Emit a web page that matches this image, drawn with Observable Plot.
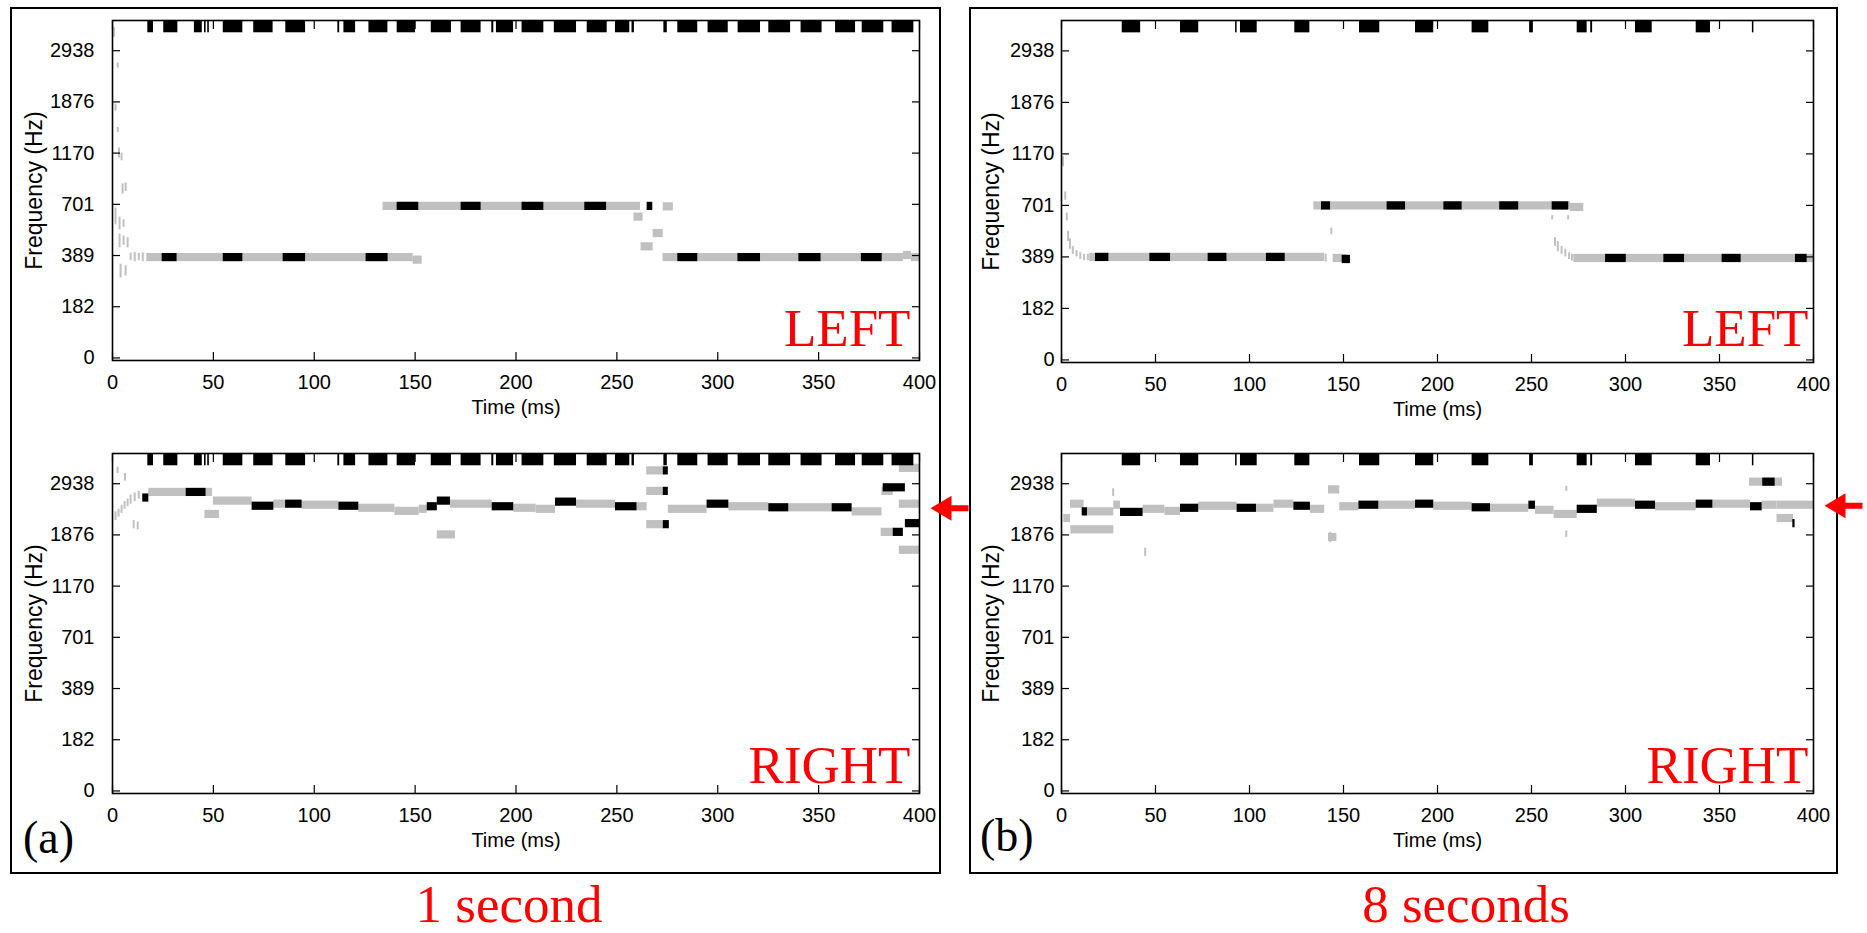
<!DOCTYPE html>
<html>
<head>
<meta charset="utf-8">
<script src="https://cdn.jsdelivr.net/npm/d3@7"></script>
<script src="https://cdn.jsdelivr.net/npm/@observablehq/plot@0.6"></script>
<style>
  html, body { margin: 0; padding: 0; background: #fff; }
  #root { position: relative; width: 1867px; height: 933px; }
  .box { position: absolute; border: 2px solid #000; box-sizing: border-box; }
  .plot { position: absolute; }
  .serif { position: absolute; font-family: "Liberation Serif", "Times New Roman", serif; white-space: nowrap; line-height: normal; }
</style>
</head>
<body>
<div id="root">
  <div class="box" style="left:10px;top:7px;width:931px;height:867px;"></div>
  <div class="box" style="left:969px;top:7px;width:869px;height:867px;"></div>
  <div id="a-left" class="plot" style="left:0px;top:0px;"></div>
  <div id="a-right" class="plot" style="left:0px;top:433px;"></div>
  <div id="b-left" class="plot" style="left:949px;top:0px;"></div>
  <div id="b-right" class="plot" style="left:949px;top:433px;"></div>
  <div class="serif" style="left:23px;top:811px;font-size:46px;color:#000;">(a)</div>
  <div class="serif" style="left:980px;top:809px;font-size:46px;color:#000;">(b)</div>
  <div class="serif" style="left:309px;top:875px;width:400px;text-align:center;font-size:53px;line-height:58px;color:red;">1 second</div>
  <div class="serif" style="left:1266px;top:875px;width:400px;text-align:center;font-size:53px;line-height:58px;color:red;">8 seconds</div>
</div>
<script>
// ---------------- tick labels ----------------
const timeTicks = [0, 50, 100, 150, 200, 250, 300, 350, 400];
const freqTickLabels = ["0", "182", "389", "701", "1170", "1876", "2938"];
const xTitle = "Time (ms)";
const yTitle = "Frequency (Hz)";

// ---------------- panel (a): 1 second ----------------
// top-row markers [t0, t1] (ms), shared by both ears
const glimpsesA = [[17.5,20.3],[25.4,32.4],[40.6,44.5],[45.6,46.4],[47.2,48.0],[54.9,64.6],[70.0,79.6],[85.9,95.7],[111.7,112.6],[114.7,120.5],[127.1,136.5],[141.1,150.2],[158.0,168.0],[172.8,182.7],[188.0,189.0],[190.3,198.8],[203.0,213.8],[219.0,230.0],[235.3,245.2],[249.3,256.4],[257.5,258.7],[273.3,275.0],[280.2,290.1],[295.2,305.2],[310.1,321.2],[325.3,336.1],[341.3,351.7],[358.4,368.3],[371.6,382.3],[386.4,397.2]];
// LEFT ear: [t0, t1, band]
const leftGrayA = [[17.0,24.6,1.96],[24.6,149.0,1.96],[149.0,153.5,1.91],[134.1,261.7,2.96],[258.5,263.0,2.75],[268.0,273.0,2.43],[262.0,268.0,2.17],[273.0,278.0,2.95],[272.9,392.0,1.96],[392.0,396.0,2.00],[396.0,400.0,1.96]];
const leftBlackA = [[24.6,32.0,1.96],[54.9,64.6,1.96],[84.6,95.7,1.96],[125.7,136.6,1.96],[141.1,151.8,2.96],[172.8,182.7,2.96],[203.0,213.8,2.96],[234.1,244.9,2.96],[265.0,267.8,2.96],[280.2,290.1,1.96],[310.0,321.2,1.96],[340.2,351.2,1.96],[371.2,381.5,1.96]];
// LEFT ear onset flecks: [t, band0, band1]
const leftFlecksA = [[0.7,6.26,6.45],[2.6,5.66,5.76],[1.5,4.82,4.96],[2.6,4.40,4.50],[3.2,3.90,4.10],[4.5,3.85,4.00],[5.0,3.20,3.40],[6.5,3.25,3.42],[1.5,2.60,2.93],[3.5,2.50,2.75],[5.5,2.55,2.70],[3.5,2.15,2.42],[5.5,2.20,2.38],[7.5,2.15,2.35],[4.0,1.56,1.83],[6.5,1.60,1.80],[9.0,1.90,2.05],[11.0,1.88,2.06],[13.0,1.90,2.04],[15.0,1.88,2.05]];
// RIGHT ear
const rightGrayA = [[18.0,36.5,5.83],[46.4,49.6,5.83],[45.8,53.0,5.40],[50.0,69.2,5.66],[80.0,85.8,5.60],[94.0,112.2,5.58],[122.1,140.0,5.52],[140.0,152.0,5.46],[152.0,156.0,5.50],[161.0,170.0,5.00],[167.5,188.2,5.60],[198.9,210.0,5.52],[210.0,219.6,5.50],[230.0,249.3,5.60],[260.0,265.0,5.55],[264.8,273.0,6.25],[264.8,273.0,5.85],[264.8,273.0,5.20],[275.5,294.7,5.50],[305.5,325.3,5.55],[335.2,356.7,5.53],[366.6,381.4,5.45],[381.4,387.0,5.85],[390.0,400.0,6.30],[390.0,400.0,5.60],[381.0,388.0,5.05],[390.0,400.0,4.70]];
const rightBlackA = [[15.0,18.0,5.72],[36.5,46.4,5.83],[69.2,80.0,5.56],[85.8,94.0,5.60],[112.2,122.1,5.56],[156.0,161.0,5.55],[161.0,167.5,5.66],[188.2,198.9,5.55],[219.6,230.0,5.64],[249.3,260.0,5.55],[273.0,275.5,6.25],[273.0,275.5,5.85],[273.0,276.0,5.20],[294.7,305.5,5.60],[325.3,335.2,5.53],[356.7,366.6,5.53],[382.0,393.0,5.92],[393.0,400.0,5.22],[387.0,392.0,5.05]];
const rightFlecksA = [[2.5,6.20,6.32],[6.2,6.05,6.20],[1.5,5.28,5.45],[3.0,5.35,5.50],[4.5,5.42,5.58],[6.0,5.50,5.65],[7.5,5.55,5.70],[9.0,5.60,5.78],[10.5,5.12,5.28],[12.5,5.10,5.25],[11.0,5.65,5.82],[13.0,5.70,5.85]];
const targetBandA = 5.52;   // arrow (target source) level

// ---------------- panel (b): 8 seconds ----------------
const glimpsesB = [[32.3,42.1],[63.3,73.0],[92.6,93.4],[95.2,104.1],[124.1,132.1],[158.5,169.3],[188.3,198.0],[218.4,227.3],[249.0,251.0],[274.3,279.6],[281.5,282.5],[305.3,314.2],[337.6,345.2],[367.5,368.3]];
const leftGrayB = [[15.0,140.0,1.99],[144.5,152.0,1.97],[134.2,270.7,2.99],[270.7,277.8,2.96],[272.5,400.0,1.97]];
const leftBlackB = [[18.1,25.2,1.99],[47.0,58.0,1.99],[78.0,88.0,1.99],[109.0,119.0,1.99],[149.3,153.7,1.95],[138.3,143.1,2.99],[173.2,183.0,2.99],[203.4,213.1,2.99],[233.1,243.2,2.99],[261.0,269.8,2.99],[289.4,300.4,1.97],[320.4,331.4,1.97],[351.4,361.5,1.97],[390.4,396.6,1.97]];
const leftFlecksB = [[0.8,3.75,3.95],[2.0,3.10,3.26],[2.8,2.70,2.85],[3.5,2.30,2.50],[4.5,2.15,2.35],[6.0,2.05,2.20],[8.0,2.00,2.12],[10.0,1.95,2.08],[12.0,1.93,2.05],[14.0,1.93,2.05],[140.5,1.90,2.05],[143.5,2.43,2.56],[261.0,2.72,2.80],[269.5,2.72,2.80],[262.5,2.20,2.37],[264.0,2.10,2.30],[266.0,2.05,2.20],[268.0,2.00,2.15],[270.0,1.95,2.08],[271.5,1.92,2.05]];
const rightGrayB = [[1.2,4.8,5.32],[4.8,12.0,5.60],[12.0,27.8,5.45],[5.0,27.8,5.10],[27.8,31.4,5.58],[43.4,55.0,5.50],[55.0,63.3,5.46],[73.0,93.4,5.56],[103.7,113.0,5.52],[113.0,123.6,5.60],[132.4,140.0,5.50],[142.0,148.0,5.88],[142.0,146.5,4.95],[148.0,158.2,5.55],[168.8,188.3,5.58],[198.0,218.4,5.56],[228.2,248.6,5.52],[252.1,262.0,5.48],[262.0,274.3,5.40],[285.0,305.3,5.62],[316.0,337.6,5.55],[346.5,366.5,5.60],[372.7,380.6,5.58],[366.0,383.5,6.03],[380.6,400.0,5.58],[380.6,389.4,5.32]];
const rightBlackB = [[11.0,13.8,5.45],[31.4,43.4,5.44],[63.3,73.0,5.52],[93.4,103.7,5.52],[123.6,132.4,5.56],[158.2,168.8,5.58],[188.3,198.0,5.60],[218.4,228.2,5.53],[248.6,252.1,5.58],[274.3,285.0,5.50],[305.3,316.0,5.58],[337.6,346.5,5.60],[366.5,372.7,5.55],[373.0,379.6,6.03],[389.0,390.2,5.22]];
const rightFlecksB = [[27.5,5.75,5.90],[44.5,4.58,4.74],[143.0,4.85,5.05],[268.5,5.85,5.95],[268.5,4.95,5.08]];
const targetBandB = 5.57;

// ---------------- drawing ----------------
const Y_DOMAIN = [-0.05, 6.59];
const Y_MID = (Y_DOMAIN[0] + Y_DOMAIN[1]) / 2;
const GLIMPSE_BOTTOM = 6.35;
const HALF = 0.08;
const GRAY = "#c0c0c0";
const SANS = "'Liberation Sans', Arial, Helvetica, sans-serif";
const SERIF = "'Liberation Serif', 'Times New Roman', serif";

// left-pointing filled arrow used as a dot symbol
const arrowSymbol = {
  draw(ctx) {
    ctx.moveTo(-19, 0);
    ctx.lineTo(2, -12.5);
    ctx.lineTo(2, -3);
    ctx.lineTo(19, -3);
    ctx.lineTo(19, 3);
    ctx.lineTo(2, 3);
    ctx.lineTo(2, 12.5);
    ctx.closePath();
  }
};

function subplot(cfg) {
  const plotW = cfg.plotW, plotH = cfg.plotH;
  const width = 112 + plotW + cfg.marginRight;
  const height = 20 + plotH + 70;
  const svg = Plot.plot({
    width, height,
    marginLeft: 112, marginRight: cfg.marginRight, marginTop: 20, marginBottom: 70,
    x: {domain: [0, 400], label: null},
    y: {domain: Y_DOMAIN, label: null},
    style: {fontFamily: SANS, fontSize: "20px", color: "#000", background: "transparent", overflow: "visible"},
    marks: [
      Plot.rect(cfg.gray, {x1: d => d[0], x2: d => d[1], y1: d => d[2] - HALF, y2: d => d[2] + HALF, fill: GRAY}),
      Plot.ruleX(cfg.flecks, {x: d => d[0], y1: d => d[1], y2: d => d[2], stroke: GRAY, strokeWidth: 2}),
      Plot.rect(cfg.black, {x1: d => d[0], x2: d => d[1], y1: d => d[2] - HALF, y2: d => d[2] + HALF, fill: "#000"}),
      Plot.rect(cfg.glimpses, {x1: d => d[0], x2: d => d[1], y1: GLIMPSE_BOTTOM, y2: Y_DOMAIN[1], fill: "#000"}),
      Plot.frame({stroke: "#000", strokeWidth: 1.6}),
      Plot.axisX(timeTicks, {anchor: "bottom", tickSize: -8, tickPadding: 22, strokeWidth: 1.2, label: null, tickFormat: d => String(d)}),
      Plot.axisX(timeTicks, {anchor: "top", tickSize: -8, strokeWidth: 1.2, label: null, tickFormat: () => ""}),
      Plot.axisY(freqTickLabels.map((_, i) => i), {anchor: "left", tickSize: -8, tickPadding: cfg.yTickPad, strokeWidth: 1.2, label: null, tickFormat: i => freqTickLabels[i]}),
      Plot.axisY(freqTickLabels.map((_, i) => i), {anchor: "right", tickSize: -8, strokeWidth: 1.2, label: null, tickFormat: () => ""}),
      Plot.text([xTitle], {frameAnchor: "bottom", dy: 53.6, text: d => d, fontSize: 20, fontFamily: SANS}),
      Plot.text([yTitle], {y: () => Y_MID, frameAnchor: "left", dx: cfg.yTitleDx, rotate: -90, textAnchor: "middle", lineAnchor: "middle", text: d => d, fontSize: 23, fontFamily: SANS, ariaLabel: "ytitle"}),
      Plot.text([cfg.ear], {frameAnchor: "bottom-right", dx: cfg.earDx, dy: cfg.earDy, text: d => d, fill: "red", fontSize: 53, fontFamily: SERIF, textAnchor: "end", lineAnchor: "bottom"}),
      cfg.target != null
        ? Plot.dot([cfg.target], {y: d => d, frameAnchor: "right", dx: 30, symbol: arrowSymbol, r: 10, fill: "red", stroke: "none"})
        : null
    ]
  });
  // make sure the rotated axis title is centred on the frame
  svg.querySelectorAll('g[aria-label="ytitle"] text').forEach(t => t.setAttribute("text-anchor", "middle"));
  return svg;
}

document.getElementById("a-left").append(subplot({
  plotW: 807, plotH: 340, marginRight: 56, yTickPad: 26, yTitleDx: -78, earDx: -9, earDy: -15,
  gray: leftGrayA, black: leftBlackA, flecks: leftFlecksA, glimpses: glimpsesA, ear: "LEFT"
}));
document.getElementById("a-right").append(subplot({
  plotW: 807, plotH: 340, marginRight: 56, yTickPad: 26, yTitleDx: -78, earDx: -9, earDy: -11,
  gray: rightGrayA, black: rightBlackA, flecks: rightFlecksA, glimpses: glimpsesA, ear: "RIGHT", target: targetBandA
}));
document.getElementById("b-left").append(subplot({
  plotW: 752, plotH: 342, marginRight: 54, yTickPad: 15, yTitleDx: -70, earDx: -5, earDy: -17,
  gray: leftGrayB, black: leftBlackB, flecks: leftFlecksB, glimpses: glimpsesB, ear: "LEFT"
}));
document.getElementById("b-right").append(subplot({
  plotW: 752, plotH: 340, marginRight: 54, yTickPad: 15, yTitleDx: -70, earDx: -5, earDy: -11,
  gray: rightGrayB, black: rightBlackB, flecks: rightFlecksB, glimpses: glimpsesB, ear: "RIGHT", target: targetBandB
}));
</script>
</body>
</html>
